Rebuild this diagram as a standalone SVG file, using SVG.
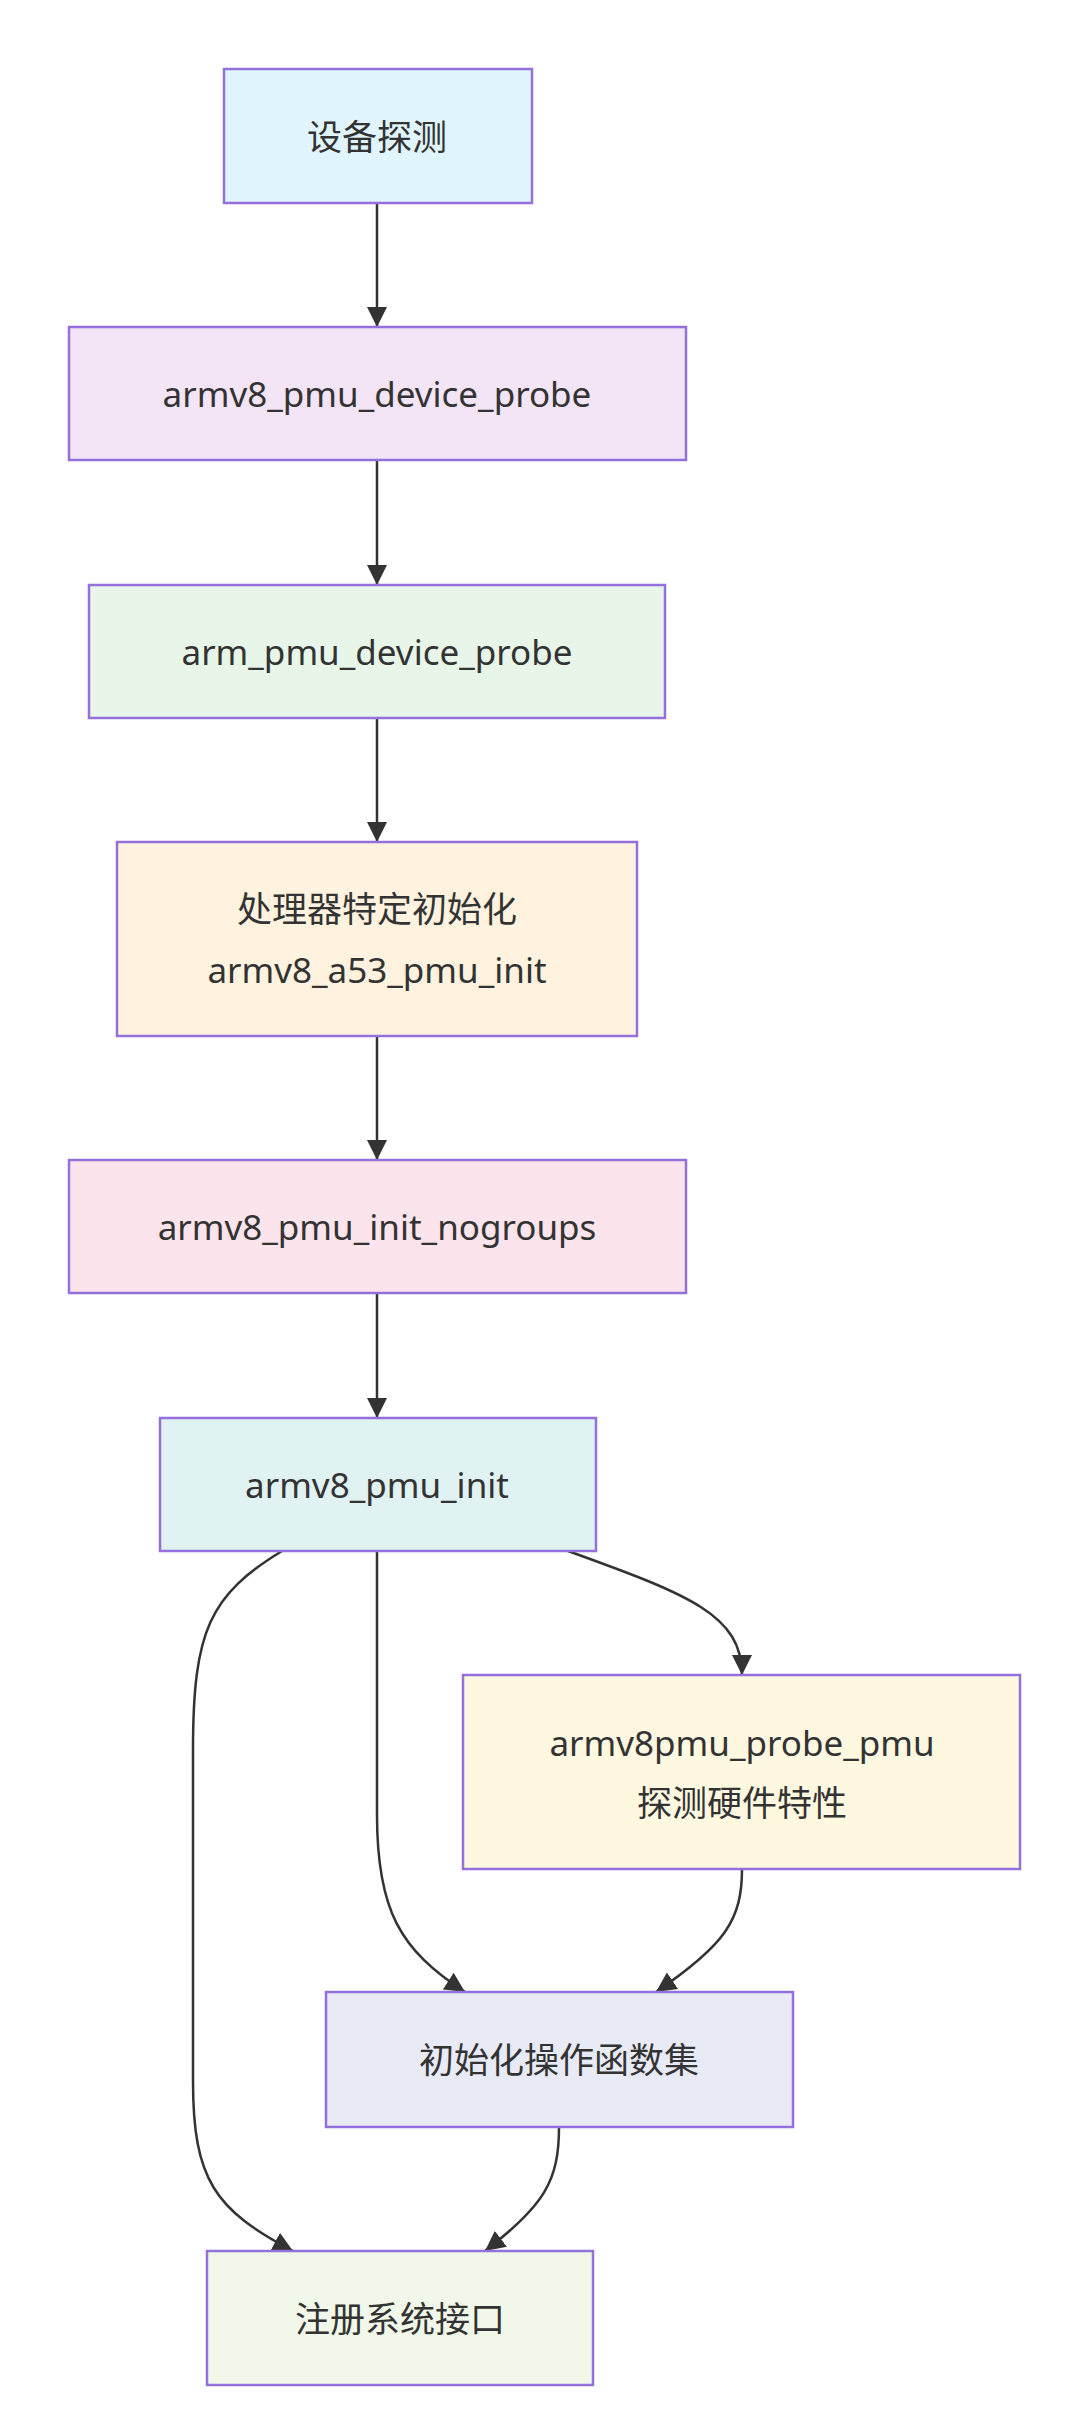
<svg xmlns="http://www.w3.org/2000/svg" width="1080" height="2433" viewBox="0 0 1080 2433">
<style>
.n{stroke:#9370db;stroke-width:2.5}
.t{font-family:"Noto Sans","Noto Sans CJK SC",sans-serif;font-size:35px;fill:#333;text-anchor:middle;dominant-baseline:central}
.e{fill:none;stroke:#333;stroke-width:2.5}
</style>
<defs><marker id="a" viewBox="0 0 10 10" refX="10" refY="5" markerWidth="20" markerHeight="20" markerUnits="userSpaceOnUse" orient="auto"><path d="M0,0L10,5L0,10z" fill="#333"/></marker></defs>
<rect width="1080" height="2433" fill="#fff"/>
<g id="edges">
<path class="e" d="M377,203V327" marker-end="url(#a)"/>
<path class="e" d="M377,460V585" marker-end="url(#a)"/>
<path class="e" d="M377,718V842" marker-end="url(#a)"/>
<path class="e" d="M377,1036V1160" marker-end="url(#a)"/>
<path class="e" d="M377,1293V1418" marker-end="url(#a)"/>
<path class="e" d="M282,1551C210,1595 193,1630 193,1750V2081C193,2180 215,2210 293,2251" marker-end="url(#a)"/>
<path class="e" d="M377,1551V1815C377,1910 400,1950 465,1992" marker-end="url(#a)"/>
<path class="e" d="M568,1551C690,1595 742,1615 742,1675" marker-end="url(#a)"/>
<path class="e" d="M742,1869C742,1920 725,1945 656,1992" marker-end="url(#a)"/>
<path class="e" d="M559,2127C559,2180 545,2205 485,2251" marker-end="url(#a)"/>
</g>
<g id="n1"><rect class="n" x="224" y="69" width="308" height="134" fill="#e1f5fe"/><text class="t" x="377" y="136">设备探测</text></g>
<g id="n2"><rect class="n" x="69" y="327" width="617" height="133" fill="#f3e5f5"/><text class="t" x="377" y="393">armv8_pmu_device_probe</text></g>
<g id="n3"><rect class="n" x="89" y="585" width="576" height="133" fill="#e8f5e9"/><text class="t" x="377" y="651">arm_pmu_device_probe</text></g>
<g id="n4"><rect class="n" x="117" y="842" width="520" height="194" fill="#fff3e0"/><text class="t" x="377" y="908">处理器特定初始化</text><text class="t" x="377" y="969">armv8_a53_pmu_init</text></g>
<g id="n5"><rect class="n" x="69" y="1160" width="617" height="133" fill="#fce4ec"/><text class="t" x="377" y="1226">armv8_pmu_init_nogroups</text></g>
<g id="n6"><rect class="n" x="160" y="1418" width="436" height="133" fill="#e0f2f1"/><text class="t" x="377" y="1484">armv8_pmu_init</text></g>
<g id="n7"><rect class="n" x="463" y="1675" width="557" height="194" fill="#fff8e1"/><text class="t" x="742" y="1742">armv8pmu_probe_pmu</text><text class="t" x="742" y="1802">探测硬件特性</text></g>
<g id="n8"><rect class="n" x="326" y="1992" width="467" height="135" fill="#e8eaf6"/><text class="t" x="559" y="2059">初始化操作函数集</text></g>
<g id="n9"><rect class="n" x="207" y="2251" width="386" height="134" fill="#f1f8e9"/><text class="t" x="400" y="2318">注册系统接口</text></g>
</svg>
